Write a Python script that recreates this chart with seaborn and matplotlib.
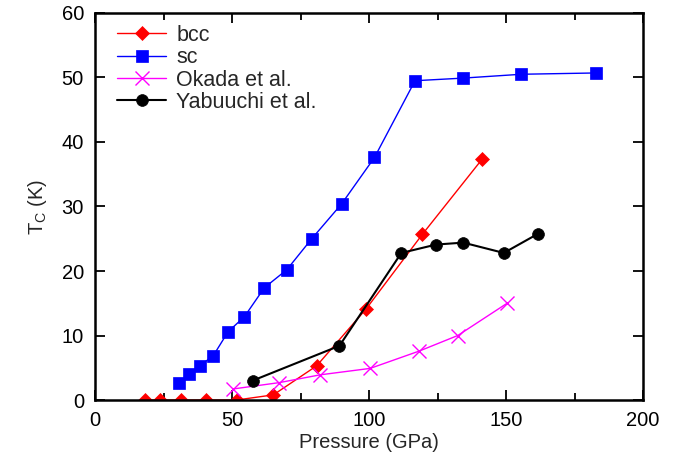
import matplotlib
matplotlib.use("Agg")
import matplotlib.pyplot as plt
from matplotlib.ticker import MultipleLocator
import seaborn as sns
import pandas as pd

# Superconducting Tc vs pressure: calculated (bcc, sc) and experiments
bcc_p = [18.2, 23.7, 31.3, 40.5, 51.7, 65.1, 80.9, 98.9, 119.5, 141.4]
bcc_tc = [0.0, 0.0, 0.0, 0.0, 0.0, 0.8, 5.3, 14.1, 25.7, 37.4]

sc_p = [30.7, 34.4, 38.3, 43.2, 48.6, 54.5, 61.8, 70.0, 79.1, 90.0,
        102.0, 116.8, 134.2, 155.6, 182.7]
sc_tc = [2.6, 4.1, 5.3, 6.9, 10.6, 12.9, 17.4, 20.2, 25.0, 30.4,
         37.6, 49.5, 49.9, 50.5, 50.7]

okada_p = [50.2, 67.3, 82.1, 100.4, 118.4, 132.4, 150.4]
okada_tc = [1.7, 2.7, 3.9, 4.9, 7.6, 10.0, 15.0]

yab_p = [57.5, 89.2, 111.8, 124.5, 134.4, 149.2, 161.8]
yab_tc = [3.0, 8.4, 22.8, 24.1, 24.4, 22.8, 25.8]

series = [
    ("bcc", bcc_p, bcc_tc, "#ff0000", "D", 7.0, 1.0),
    ("sc", sc_p, sc_tc, "#0000ff", "s", 8.5, 1.0),
    ("Okada et al.", okada_p, okada_tc, "#ff00ff", "x", 10.0, 1.0),
    ("Yabuuchi et al.", yab_p, yab_tc, "#000000", "o", 8.5, 1.5),
]

sns.set_style("ticks")
plt.rcParams["font.family"] = ["Liberation Sans", "DejaVu Sans"]
plt.rcParams["mathtext.fontset"] = "custom"
plt.rcParams["mathtext.rm"] = "Liberation Sans"
plt.rcParams["mathtext.it"] = "Liberation Sans"

fig = plt.figure(figsize=(6.85, 4.57), dpi=100)
ax = fig.add_axes([0.1387, 0.1247, 0.8, 0.8469])

for name, p, tc, color, marker, ms, lw in series:
    df = pd.DataFrame({"Pressure": p, "Tc": tc})
    sns.lineplot(data=df, x="Pressure", y="Tc", ax=ax, color=color,
                 marker=marker, markersize=ms, linewidth=lw,
                 markeredgecolor=color,
                 markeredgewidth=1.0 if marker == "x" else 0.5,
                 label=name, sort=False)

ax.set_xlim(0, 200)
ax.set_ylim(0, 60)
ax.xaxis.set_major_locator(MultipleLocator(50))
ax.xaxis.set_minor_locator(MultipleLocator(25))
ax.yaxis.set_major_locator(MultipleLocator(10))
ax.tick_params(which="both", direction="in", top=True, right=True,
               width=1.3, labelsize=14.5, colors="black")
ax.tick_params(which="major", length=7)
ax.tick_params(axis="y", which="major", pad=8)
ax.tick_params(axis="x", which="major", pad=8)
ax.tick_params(which="minor", length=5)
for s in ax.spines.values():
    s.set_linewidth(1.8)
    s.set_color("black")

ax.set_xlabel("Pressure (GPa)", fontsize=14.5, labelpad=2)
ax.set_ylabel(r"T$_\mathrm{C}$ (K)", fontsize=14.5, labelpad=9)

leg = ax.legend(loc="upper left", frameon=False, fontsize=15.5,
                handlelength=2.3, handletextpad=0.45, labelspacing=0.06,
                borderpad=0.0, borderaxespad=0.0,
                bbox_to_anchor=(0.040, 0.969))

fig.savefig("out.png", dpi=100)
